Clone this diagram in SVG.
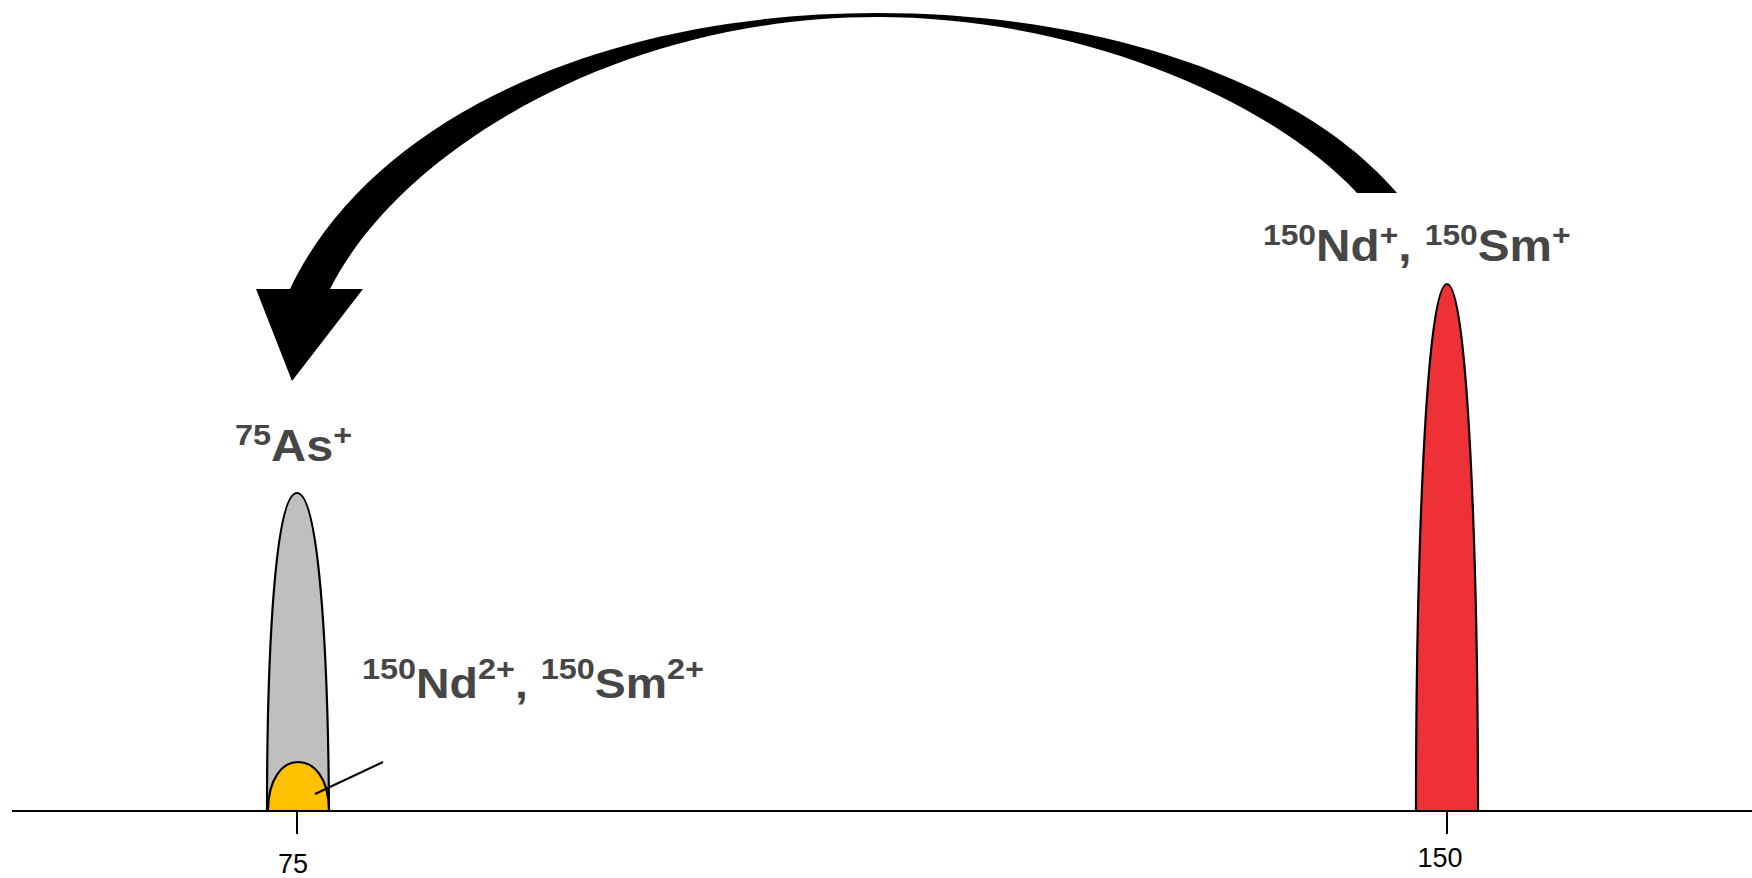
<svg xmlns="http://www.w3.org/2000/svg" width="1752" height="878" viewBox="0 0 1752 878">
<style>
.lbl{font-family:"Liberation Sans",Arial,sans-serif;font-weight:bold;fill:#464646}
.sup{font-size:30px}
.tick{font-family:"Liberation Sans",Arial,sans-serif;font-size:27px;fill:#000;text-anchor:middle}
.peak{stroke:#000;stroke-width:2.2}
.ax{stroke:#000;stroke-width:2;fill:none}
</style>
<rect width="1752" height="878" fill="#fff"/>
<g id="axis">
<line class="ax" x1="12" y1="811" x2="1752" y2="811"/>
<line class="ax" x1="297" y1="811" x2="297" y2="834"/>
<line class="ax" x1="1447" y1="811" x2="1447" y2="834"/>
<text class="tick" x="293" y="873">75</text>
<text class="tick" x="1440" y="867">150</text>
</g>
<g id="peak-as">
<path class="peak" fill="#BFBFBF" d="M267,811 C267,640 276,493 297,493 C318,493 328,640 329,811 Z"/>
</g>
<g id="peak-nd2">
<path class="peak" fill="#FFC000" d="M268,811 C268,778 283,762 298,762 C314,762 329,778 329,811 Z"/>
<line x1="315" y1="794" x2="383" y2="762" stroke="#000" stroke-width="2"/>
</g>
<g id="peak-nd">
<path class="peak" fill="#EE3137" d="M1416,811 C1416,560 1426,284 1447,284 C1468,284 1478,560 1478,811 Z"/>
</g>
<g id="labels">
<text class="lbl" transform="translate(1263,261) scale(1.06,1)" x="0" y="0" font-size="45"><tspan class="sup" dy="-16">150</tspan><tspan dy="16">Nd</tspan><tspan class="sup" dy="-16">+</tspan><tspan dy="16">, </tspan><tspan class="sup" dy="-16">150</tspan><tspan dy="16">Sm</tspan><tspan class="sup" dy="-16">+</tspan></text>
<text class="lbl" transform="translate(362,698) scale(1.08,1)" x="0" y="0" font-size="43"><tspan class="sup" dy="-19" font-size="29">150</tspan><tspan dy="19">Nd</tspan><tspan class="sup" dy="-19" font-size="29">2+</tspan><tspan dy="19">, </tspan><tspan class="sup" dy="-19" font-size="29">150</tspan><tspan dy="19">Sm</tspan><tspan class="sup" dy="-19" font-size="29">2+</tspan></text>
<text class="lbl" transform="translate(235,461) scale(1.08,1)" x="0" y="0" font-size="45"><tspan class="sup" dy="-16">75</tspan><tspan dy="16">As</tspan><tspan class="sup" dy="-16">+</tspan></text>
</g>
<g id="connectors">
<path fill="#000" d="M1397,193 C1300,80 1100,13 877,13 C600,13 370,120 290,289 L256,289 L292,381 L363,289 L330,289 C400,150 620,17 877,17 C1080,17 1270,100 1357,193 Z"/>
</g>
</svg>
